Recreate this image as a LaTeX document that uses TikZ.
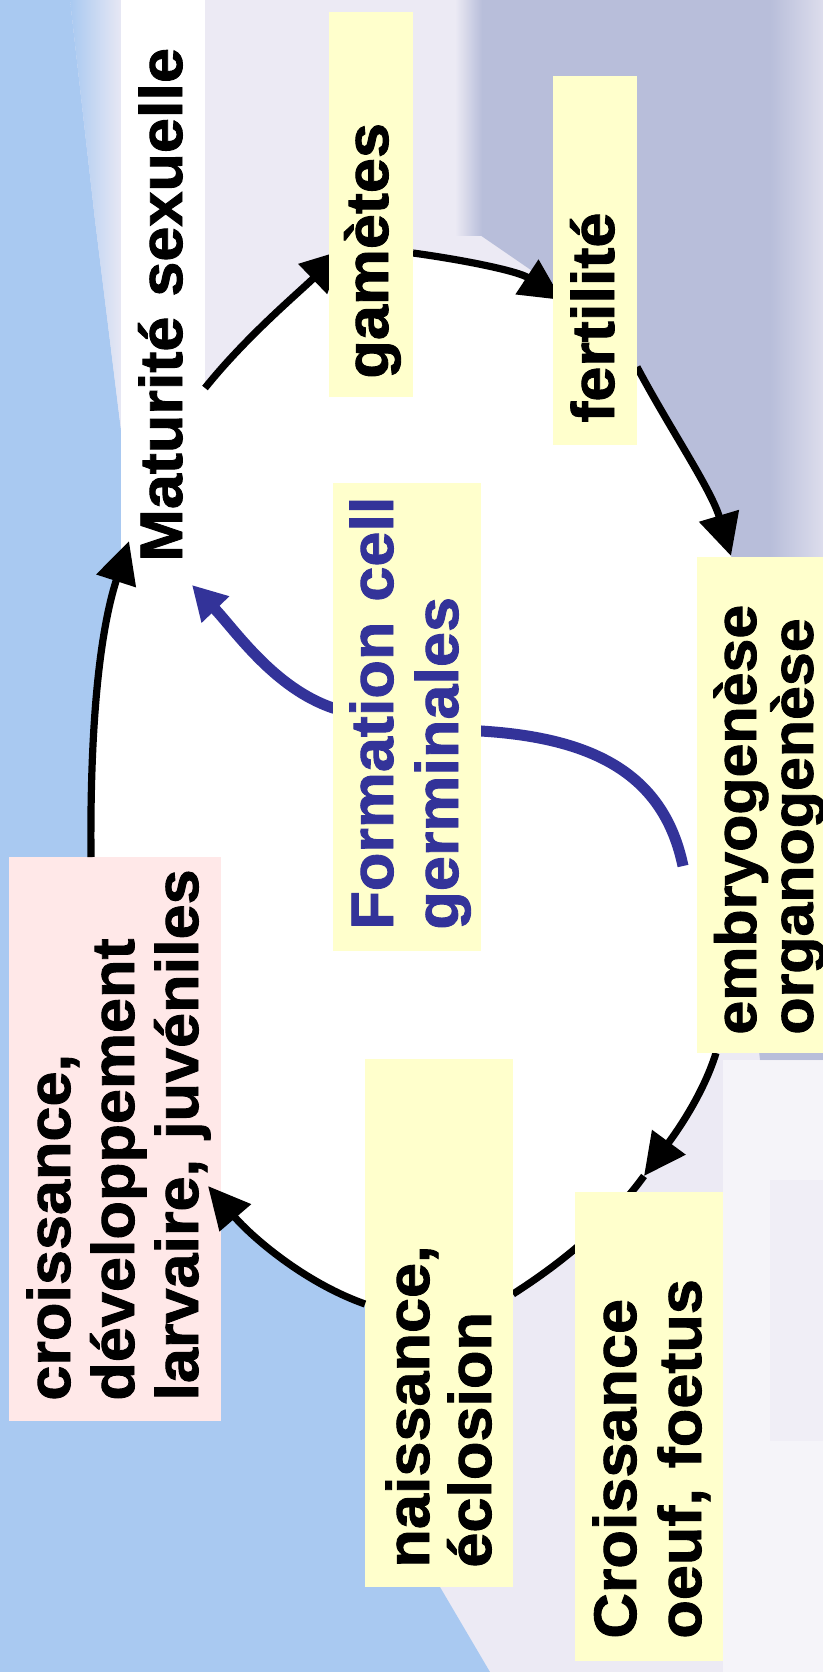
\documentclass[tikz,border=0pt]{standalone}
\usepackage{fontspec}
\setmainfont{Liberation Sans}[BoldFeatures={FakeBold=1.5,FakeStretch=1.05}]
\usetikzlibrary{arrows.meta}
\definecolor{skyblue}{HTML}{A9C9F1}
\definecolor{lav}{HTML}{B8BEDA}
\definecolor{haze}{HTML}{ECEAF4}
\definecolor{boxyellow}{HTML}{FFFFCC}
\definecolor{boxpink}{HTML}{FFE8E8}
\definecolor{germblue}{HTML}{333399}
\begin{document}
\begin{tikzpicture}[x=0.5pt,y=-0.5pt,
  ybox/.style={fill=boxyellow, inner sep=0pt, outer sep=0pt, anchor=north west},
  pbox/.style={fill=boxpink, inner sep=0pt, outer sep=0pt, anchor=north west},
  wbox/.style={fill=white, inner sep=0pt, outer sep=0pt, anchor=north west},
  lbl/.style={rotate=90, anchor=base west, inner sep=0pt, align=left, text width=300pt},
  big/.style={font=\bfseries\fontsize{30}{32}\selectfont},
  cyc/.style={line width=3.6pt, black},
  tipk/.style={-{Triangle[width=20pt,length=21pt]}},
]
\useasboundingbox (0,0) rectangle (823,1672);
% ---------- background photo (approximation)
\fill[haze] (0,0) rectangle (823,1672);
\fill[lav] (480,0) -- (823,0) -- (823,1060) -- (760,1060) -- (705,560) -- (640,380) -- (560,290) -- (480,235) -- cycle;
\shade[left color=lav, right color=haze!70!lav] (770,0) rectangle (823,560);
\shade[left color=haze, right color=lav] (455,0) rectangle (482,235);
\fill[white, opacity=0.5] (723,1060) rectangle (823,1672);
\shade[left color=haze!80!white, middle color=lav!45, right color=haze!80!white] (770,1180) rectangle (823,1440);
\fill[skyblue] (0,0) -- (70,0) -- (95,220) -- (121,430) -- (121,870) -- (221,1000) -- (365,1300) -- (440,1587) -- (490,1672) -- (0,1672) -- cycle;
\shade[left color=skyblue, right color=haze] (70,0) -- (125,0) -- (121,430) -- (95,220) -- cycle;
% ---------- white interior of the cycle
\fill[white] (205,388) .. controls (246,337) and (296,295) .. (343,250)
  -- (413,253) .. controls (464,260) and (518,271) .. (562,300)
  -- (637,367) .. controls (670,429) and (711,489) .. (731,556)
  .. controls (770,700) and (765,900) .. (716,1053)
  .. controls (702,1098) and (672,1138) .. (644,1176)
  .. controls (609,1224) and (563,1262) .. (513,1294)
  .. controls (470,1312) and (410,1314) .. (365,1304)
  .. controls (303,1282) and (251,1236) .. (208,1186)
  .. controls (130,1100) and (92,960) .. (91,857)
  .. controls (90,753) and (96,643) .. (129,541)
  .. controls (150,480) and (180,420) .. (205,388) -- cycle;
% ---------- white column and pink box
\node[wbox, minimum width=42pt, minimum height=280pt] (matBox) at (121,0) {};
\node[pbox, minimum width=106pt, minimum height=282pt] (pinkBox) at (9,857) {};
% ---------- blue arrow (behind its box)
\coordinate (bs) at (683,866);
\coordinate (be) at (192,585);
\draw[line width=5.5pt, germblue, -{Triangle[width=18pt,length=17pt]}]
  (bs) .. controls (664,775) and (595,738) .. (481,731) -- (333,708)
  .. controls (274,688) and (235,630) .. (be);
% ---------- cycle arcs under the boxes
\coordinate (a1s) at (205,388); \coordinate (a1e) at (343,250);
\coordinate (a2s) at (413,253); \coordinate (a2e) at (562,300);
\coordinate (a3s) at (637,367); \coordinate (a3e) at (731,556);
\coordinate (a4s) at (716,1053); \coordinate (a4e) at (644,1176);
\coordinate (a5e) at (513,1294);
\draw[cyc, tipk] (a1s) .. controls (246,337) and (296,295) .. (a1e);
\draw[cyc, tipk] (a2s) .. controls (464,260) and (518,271) .. (a2e);
\draw[cyc, tipk] (a3s) .. controls (670,429) and (711,489) .. (a3e);
\draw[cyc, tipk] (a4s) .. controls (702,1098) and (672,1138) .. (a4e);
\draw[cyc] (a4e) .. controls (609,1224) and (563,1262) .. (a5e);
% ---------- yellow boxes
\node[ybox, minimum width=42pt, minimum height=192.5pt] (gamBox) at (329,12) {};
\node[ybox, minimum width=42pt, minimum height=184.5pt] (ferBox) at (553,76) {};
\node[ybox, minimum width=74pt, minimum height=234pt] (forBox) at (333,483) {};
\node[ybox, minimum width=64pt, minimum height=248pt] (embBox) at (697,557) {};
\node[ybox, minimum width=74pt, minimum height=264pt] (naiBox) at (365,1059) {};
\node[ybox, minimum width=74pt, minimum height=234.5pt] (croBox) at (575,1192) {};
% ---------- arcs drawn over the pink box and white column
\coordinate (a6s) at (365,1304); \coordinate (a6e) at (208,1186);
\coordinate (a7s) at (91,857); \coordinate (a7e) at (129,541);
\draw[cyc, tipk] (a6s) .. controls (303,1282) and (251,1236) .. (a6e);
\draw[cyc, tipk] (a7s) .. controls (90,753) and (96,643) .. (a7e);
% ---------- texts
\node[lbl, big] (mat) at (182,562) {Maturité sexuelle};
\node[lbl, big] (gam) at (388,379) {gamètes};
\node[lbl, big] (fer) at (614,423) {fertilité};
\node[lbl, font=\bfseries\fontsize{30}{32.5}\selectfont, text=germblue] (for) at (393,930) {Formation cell\\germinales};
\node[lbl, font=\bfseries\fontsize{29}{24}\selectfont] (emb) at (756,1035) {embryogenèse\\organogenèse};
\node[lbl, big] (cro) at (70,1401) {croissance,\\développement\\larvaire, juvéniles};
\node[lbl, font=\bfseries\fontsize{30}{31}\selectfont] (nai) at (429,1568) {naissance,\\éclosion};
\node[lbl, font=\bfseries\fontsize{30}{32.5}\selectfont] (Cro) at (636,1639) {Croissance\\oeuf, foetus};
\end{tikzpicture}
\end{document}
